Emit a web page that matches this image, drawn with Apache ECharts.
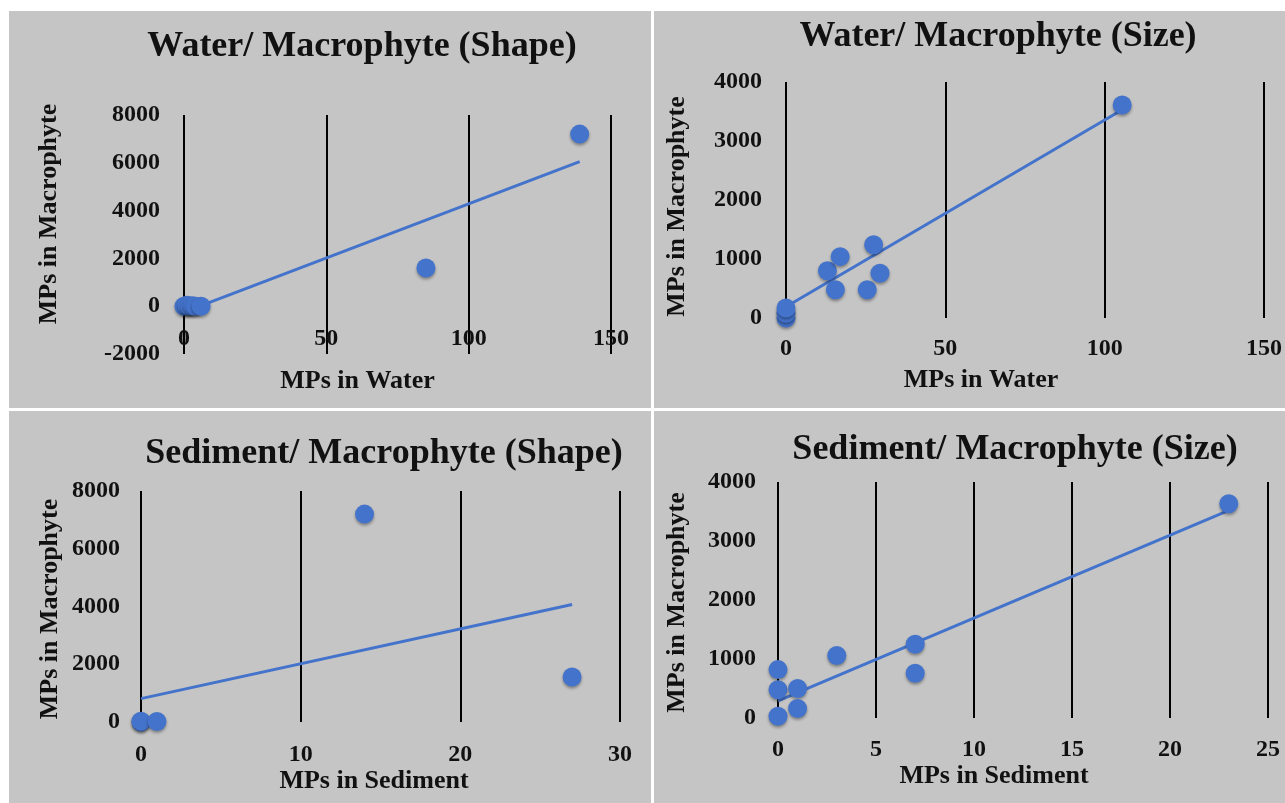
<!DOCTYPE html>
<html><head><meta charset="utf-8">
<script src="https://cdn.jsdelivr.net/npm/echarts@6/dist/echarts.min.js"></script>
<style>
html,body{margin:0;padding:0;background:#fff;}
#wrap{position:relative;width:1285px;height:803px;overflow:hidden;background:#fff;}
.panel{position:absolute;background:#c5c5c5;}
#chart{position:absolute;left:0;top:0;width:1285px;height:803px;}
</style></head><body>
<div id="wrap">
<div class="panel" style="left:9px;top:11px;width:642px;height:397px"></div>
<div class="panel" style="left:654px;top:11px;width:631px;height:397px"></div>
<div class="panel" style="left:9px;top:411px;width:642px;height:392px"></div>
<div class="panel" style="left:654px;top:411px;width:631px;height:392px"></div>
<div id="chart"></div>
</div>
<script>
// ---------- data ----------
const panelTitles = ['Water/ Macrophyte (Shape)', 'Water/ Macrophyte (Size)', 'Sediment/ Macrophyte (Shape)', 'Sediment/ Macrophyte (Size)'];
const xTitles = ['MPs in Water', 'MPs in Water', 'MPs in Sediment', 'MPs in Sediment'];
const yTitle = 'MPs in Macrophyte';

const waterShapeXTicks = [0, 50, 100, 150];
const waterShapeYTicks = [-2000, 0, 2000, 4000, 6000, 8000];
const waterShapeX = [0, 1, 2, 3, 4, 6, 85, 139];
const waterShapeY = [0, 40, 10, 20, 0, 0, 1600, 7200];
const waterShapeTrend = [[0, -250], [139, 6050]];

const waterSizeXTicks = [0, 50, 100, 150];
const waterSizeYTicks = [0, 1000, 2000, 3000, 4000];
const waterSizeX = [0, 0, 0, 13, 17, 15.5, 27.5, 25.5, 29.5, 105.5];
const waterSizeY = [0, 80, 170, 800, 1040, 480, 1240, 480, 760, 3610];
const waterSizeTrend = [[0, 190], [105.5, 3530]];

const sedShapeXTicks = [0, 10, 20, 30];
const sedShapeYTicks = [0, 2000, 4000, 6000, 8000];
const sedShapeX = [0, 0, 1, 14, 27];
const sedShapeY = [0, 30, 20, 7200, 1560];
const sedShapeTrend = [[0, 810], [27, 4070]];

const sedSizeXTicks = [0, 5, 10, 15, 20, 25];
const sedSizeYTicks = [0, 1000, 2000, 3000, 4000];
const sedSizeX = [0, 0, 0, 1, 1, 3, 7, 7, 23];
const sedSizeY = [820, 480, 30, 500, 160, 1060, 1250, 760, 3630];
const sedSizeTrend = [[0, 290], [23, 3520]];

// ---------- layout / style ----------
const FONT = "'Liberation Serif', 'Times New Roman', serif";
const BLUE = '#4473cb';
const layouts = [
  {grid: {left: 184, top: 115, width: 427, height: 239}, title: [362, 44], yGap: 122, yPad: [0, 0, 0, 41], xGap: 14.5, xPad: [0, 80, 0, 0], yLabM: 24, xLabM: -27.5},
  {grid: {left: 786, top: 82, width: 480, height: 236}, title: [998, 34], yGap: 96, yPad: [0, 13, 0, 0], xGap: 49, xPad: [0, 88, 0, 0], yLabM: 24, xLabM: 19},
  {grid: {left: 141, top: 491, width: 479, height: 231}, title: [384, 451], yGap: 78, yPad: [0, 5, 0, 0], xGap: 44, xPad: [0, 13, 0, 0], yLabM: 21, xLabM: 21},
  {grid: {left: 778, top: 482, width: 490, height: 236}, title: [1015, 447], yGap: 88, yPad: [0, 5, 0, 0], xGap: 44, xPad: [0, 58, 0, 0], yLabM: 22, xLabM: 20}
];
const panels = [
  {xt: waterShapeXTicks, yt: waterShapeYTicks, xs: waterShapeX, ys: waterShapeY, tr: waterShapeTrend},
  {xt: waterSizeXTicks, yt: waterSizeYTicks, xs: waterSizeX, ys: waterSizeY, tr: waterSizeTrend},
  {xt: sedShapeXTicks, yt: sedShapeYTicks, xs: sedShapeX, ys: sedShapeY, tr: sedShapeTrend},
  {xt: sedSizeXTicks, yt: sedSizeYTicks, xs: sedSizeX, ys: sedSizeY, tr: sedSizeTrend}
];

const TITLE_FS = 36, NAME_FS = 26, LABEL_FS = 24;
const plain = v => String(v);
const option = {animation: false, title: [], grid: [], xAxis: [], yAxis: [], series: []};
panels.forEach((p, i) => {
  const L = layouts[i];
  option.title.push({
    text: panelTitles[i], left: L.title[0], top: L.title[1] - 15, textAlign: 'center',
    padding: 0,
    textStyle: {fontFamily: FONT, fontWeight: 'bold', fontSize: TITLE_FS, color: '#111'}
  });
  option.grid.push(Object.assign({containLabel: false}, L.grid));
  option.xAxis.push({
    type: 'value', gridIndex: i,
    min: p.xt[0], max: p.xt[p.xt.length - 1], interval: p.xt[1] - p.xt[0],
    name: xTitles[i], nameLocation: 'middle', nameGap: L.xGap,
    nameTextStyle: {fontFamily: FONT, fontWeight: 'bold', fontSize: NAME_FS, color: '#111', padding: L.xPad},
    axisLine: {show: false, onZero: false}, axisTick: {show: false},
    axisLabel: {fontFamily: FONT, fontWeight: 'bold', fontSize: LABEL_FS, color: '#111', margin: L.xLabM, formatter: plain},
    splitLine: {show: true, lineStyle: {color: '#000', width: 2}}
  });
  option.yAxis.push({
    type: 'value', gridIndex: i,
    min: p.yt[0], max: p.yt[p.yt.length - 1], interval: p.yt[1] - p.yt[0],
    name: yTitle, nameLocation: 'middle', nameGap: L.yGap, nameRotate: 90,
    nameTextStyle: {fontFamily: FONT, fontWeight: 'bold', fontSize: NAME_FS, color: '#111', padding: L.yPad},
    axisLine: {show: false}, axisTick: {show: false},
    axisLabel: {fontFamily: FONT, fontWeight: 'bold', fontSize: LABEL_FS, color: '#111', margin: L.yLabM, formatter: plain},
    splitLine: {show: false}
  });
  option.series.push({
    type: 'line', xAxisIndex: i, yAxisIndex: i, data: p.tr, symbol: 'none', z: 3,
    lineStyle: {color: BLUE, width: 3}, silent: true
  });
  option.series.push({
    type: 'scatter', xAxisIndex: i, yAxisIndex: i, z: 4,
    data: p.xs.map((x, k) => [x, p.ys[k]]),
    symbolSize: 19,
    itemStyle: {color: BLUE, opacity: 1, shadowBlur: 3, shadowOffsetY: 2, shadowColor: 'rgba(0,0,0,0.35)'}
  });
});
const chart = echarts.init(document.getElementById('chart'), null, {renderer: 'canvas'});
chart.setOption(option);
</script>
</body></html>
